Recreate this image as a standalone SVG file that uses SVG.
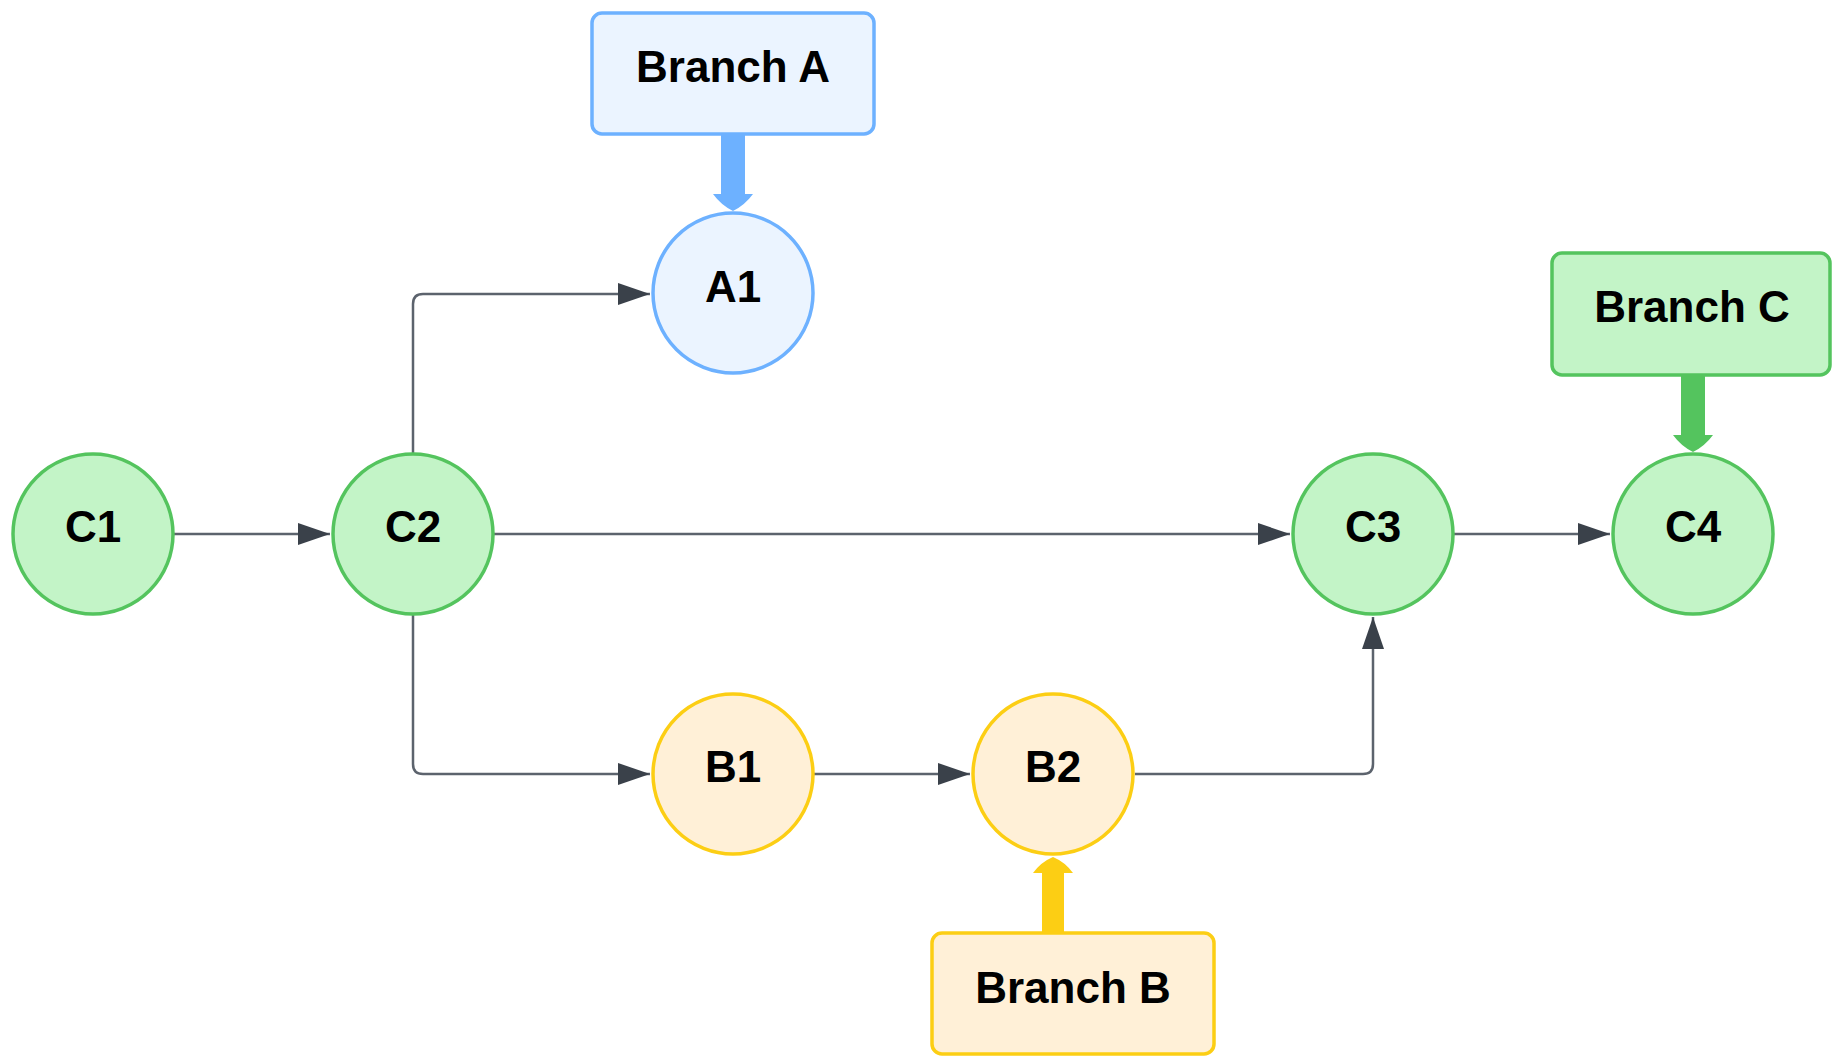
<svg xmlns="http://www.w3.org/2000/svg" width="1832" height="1060" viewBox="0 0 1832 1060">
<style>
.lbl{font-family:"Liberation Sans",Arial,sans-serif;font-weight:bold;font-size:44px;fill:#000;text-anchor:middle}
.g{fill:#c3f4c7;stroke:#54c45e;stroke-width:3.5}
.b{fill:#ebf4ff;stroke:#6db1ff;stroke-width:3.5}
.y{fill:#fff0d7;stroke:#fcce14;stroke-width:3.5}
.cn{fill:none;stroke:#5c636d;stroke-width:2.5}
</style>
<defs>
<marker id="ah" markerUnits="userSpaceOnUse" markerWidth="34" markerHeight="22" refX="32" refY="11" orient="auto">
<path d="M0,0 L32,11 L0,22 Z" fill="#3a414a"/>
</marker>
</defs>
<rect width="1832" height="1060" fill="#fff"/>
<g id="connectors">
<path class="cn" d="M174,534 H330" marker-end="url(#ah)"/>
<path class="cn" d="M494,534 H1290" marker-end="url(#ah)"/>
<path class="cn" d="M1453,534 H1610" marker-end="url(#ah)"/>
<path class="cn" d="M413,453 V304 Q413,294 423,294 H650" marker-end="url(#ah)"/>
<path class="cn" d="M413,615 V764 Q413,774 423,774 H650" marker-end="url(#ah)"/>
<path class="cn" d="M813,774 H970" marker-end="url(#ah)"/>
<path class="cn" d="M1135,774 H1363 Q1373,774 1373,764 V617" marker-end="url(#ah)"/>
<path d="M721,134 H745 V194 H753 Q745,205 733,211 Q721,205 713,194 H721 Z" fill="#6db1ff"/>
<path d="M1681,375 H1705 V435 H1713 Q1705,446 1693,452 Q1681,446 1673,435 H1681 Z" fill="#54c45e"/>
<path d="M1042,933 H1064 V873 H1073 Q1065,862 1053,857 Q1041,862 1033,873 H1042 Z" fill="#fcce14"/>
</g>
<g id="branchA"><rect class="b" x="592" y="13" width="282" height="121" rx="10"/><text class="lbl" x="733" y="82">Branch A</text></g>
<g id="branchB"><rect class="y" x="932" y="933" width="282" height="121" rx="10"/><text class="lbl" x="1073" y="1003">Branch B</text></g>
<g id="branchC"><rect class="g" x="1552" y="253" width="278" height="122" rx="10"/><text class="lbl" x="1692" y="322">Branch C</text></g>
<g id="C1"><circle class="g" cx="93" cy="534" r="80"/><text class="lbl" x="93" y="542">C1</text></g>
<g id="C2"><circle class="g" cx="413" cy="534" r="80"/><text class="lbl" x="413" y="542">C2</text></g>
<g id="C3"><circle class="g" cx="1373" cy="534" r="80"/><text class="lbl" x="1373" y="542">C3</text></g>
<g id="C4"><circle class="g" cx="1693" cy="534" r="80"/><text class="lbl" x="1693" y="542">C4</text></g>
<g id="A1"><circle class="b" cx="733" cy="293" r="80"/><text class="lbl" x="733" y="302">A1</text></g>
<g id="B1"><circle class="y" cx="733" cy="774" r="80"/><text class="lbl" x="733" y="782">B1</text></g>
<g id="B2"><circle class="y" cx="1053" cy="774" r="80"/><text class="lbl" x="1053" y="782">B2</text></g>
</svg>
